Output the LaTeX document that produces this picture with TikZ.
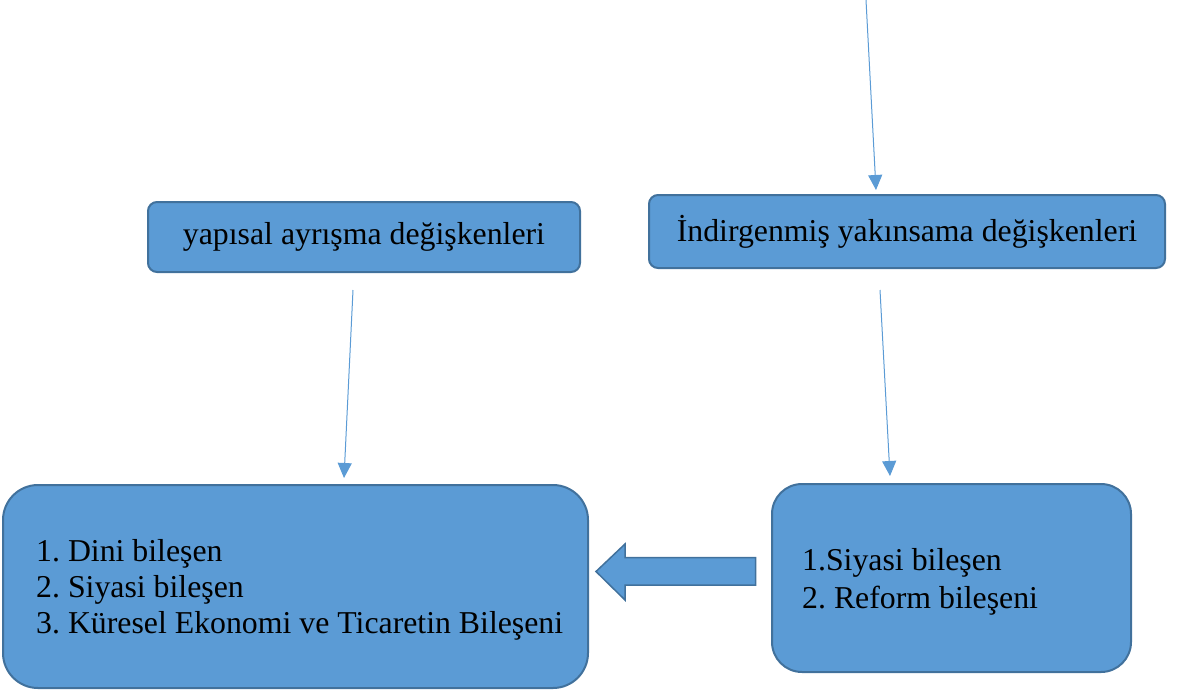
\documentclass[tikz,border=0pt]{standalone}
\usepackage{fontspec}
\setmainfont{Liberation Serif}
\usetikzlibrary{arrows.meta}
\definecolor{boxblue}{HTML}{5B9BD5}
\definecolor{boxedge}{HTML}{41719C}
\frenchspacing
\tikzset{
	kutu/.style={draw=boxedge, fill=boxblue, line width=2pt, inner sep=0pt},
	yazi/.style={inner sep=0pt, font=\fontsize{31.8}{36}\selectfont},
	ok/.style={draw=boxblue, line width=1pt, -{Triangle[length=15pt,width=14pt]}}
}

\begin{document}
\begin{tikzpicture}[x=1pt,y=-1pt]
			%%%%% START %%%%%
			\useasboundingbox (0,0) rectangle (1180,691);
			
			\node[kutu, rounded corners=9pt, minimum width=432pt, minimum height=70pt] (yapisal) at (364,237) {};
			\node[kutu, rounded corners=9pt, minimum width=516pt, minimum height=73pt] (indirgen) at (907,231.5) {};
			\node[kutu, rounded corners=35pt, minimum width=585pt, minimum height=203pt] (sol) at (295.5,586.5) {};
			\node[kutu, rounded corners=30pt, minimum width=359pt, minimum height=188pt] (sag) at (951.5,578) {};
			
			\node[yazi] (yapisalyazi) at (yapisal) {yapısal ayrışma değişkenleri};
			\node[yazi] (indirgenyazi) at (indirgen) {İndirgenmiş yakınsama değişkenleri};
			
			\node[yazi, anchor=base west] (sol1) at (36,561) {1. Dini bileşen};
			\node[yazi, anchor=base west] (sol2) at (36,597) {2. Siyasi bileşen};
			\node[yazi, anchor=base west] (sol3) at (36,633) {3. Küresel Ekonomi ve Ticaretin Bileşeni};
			
			\node[yazi, anchor=base west] (sag1) at (802,570) {1.Siyasi bileşen};
			\node[yazi, anchor=base west] (sag2) at (802,608) {2. Reform bileşeni};
			
			\coordinate (ust) at (866,0);
			\coordinate (ustuc) at (876,190);
			\coordinate (yapisalalt) at (353,290);
			\coordinate (soluc) at (344,478);
			\coordinate (indirgenalt) at (880,290);
			\coordinate (saguc) at (890,476);
			
			\draw[ok] (ust) -- (ustuc);
			\draw[ok] (yapisalalt) -- (soluc);
			\draw[ok] (indirgenalt) -- (saguc);
			
			\draw[kutu, line width=1.5pt] (755.5,557.5) -- (625,557.5) -- (625,544) -- (596,571.5) -- (625,600) -- (625,585) -- (755.5,585) -- cycle;
			
			%%%%% END %%%%%
\end{tikzpicture}
\end{document}
